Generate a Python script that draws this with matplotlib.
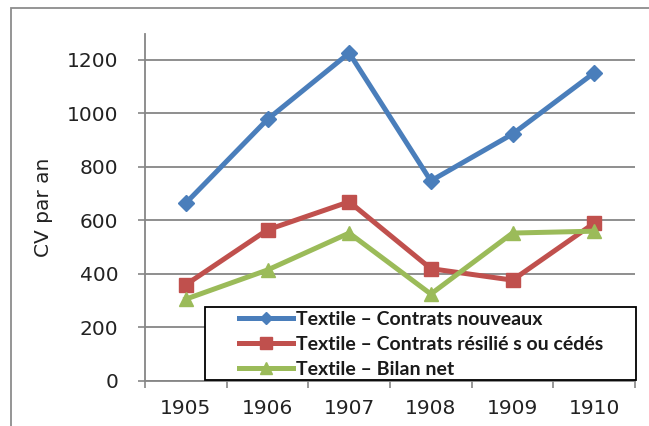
import numpy as np
import matplotlib
matplotlib.use("Agg")
import matplotlib.pyplot as plt
from matplotlib.patches import Rectangle
from matplotlib.lines import Line2D

# données
annees = ['1905', '1906', '1907', '1908', '1909', '1910']
nouveaux = [665, 978, 1226, 748, 923, 1152]
resilies = [360, 565, 670, 420, 377, 590]
bilan = [306, 415, 553, 325, 553, 560]

series_noms = ['Textile \u2013 Contrats nouveaux',
               'Textile \u2013 Contrats r\u00e9sili\u00e9 s ou c\u00e9d\u00e9s',
               'Textile \u2013 Bilan net']

bleu = '#4A7EBB'
rouge = '#C0504D'
vert = '#9BBB59'
gris = '#868686'

W, H = 649, 426
fig = plt.figure(figsize=(W / 100, H / 100), dpi=100)

# cadre gris autour du graphique (coupe a droite et en bas)
fig.patches.append(Rectangle((11 / W, -0.05), 1.0, (H - 8) / H + 0.05,
                             transform=fig.transFigure, fill=False,
                             edgecolor='#8C8C8C', linewidth=1.3))

ax = fig.add_axes([145 / W, 1 - 381 / H, 490 / W, 347 / H])
x = np.arange(len(annees))

ax.plot(x, nouveaux, color=bleu, lw=3.6, marker='D', ms=8.5, zorder=4)
ax.plot(x, resilies, color=rouge, lw=3.6, marker='s', ms=10.5, zorder=3)
ax.plot(x, bilan, color=vert, lw=3.6, marker='^', ms=10.5, zorder=3)

ax.set_xlim(-0.5, 5.5)
ax.set_ylim(0, 1297)
ax.set_yticks(np.arange(0, 1201, 200))
ax.yaxis.grid(True, color=gris, lw=1.3)
ax.set_axisbelow(True)

ax.set_xticks(x)
ax.set_xticklabels(annees)
ax.set_xticks(np.arange(-0.5, 6, 1), minor=True)
ax.tick_params(axis='x', which='major', length=0, pad=13, labelsize=14.5)
ax.tick_params(axis='x', which='minor', length=5, width=1.2, color=gris, direction='out')
ax.tick_params(axis='y', length=5, width=1.2, color=gris, pad=14, labelsize=14.5)

for t in ax.get_xticklabels() + ax.get_yticklabels():
    t.set_color('#222222')

for s in ['top', 'right']:
    ax.spines[s].set_visible(False)
for s in ['left', 'bottom']:
    ax.spines[s].set_color(gris)
    ax.spines[s].set_linewidth(1.3)

ax.set_ylabel('CV par an', fontsize=14.5, color='#222222')
ax.yaxis.set_label_coords(-(145 - 53) / 490, 0.5)

# legende : cadre noir + entrees
bx0 = (205 - 145) / 490
by0 = (381 - 380) / 347
ax.add_patch(Rectangle((bx0, by0), (636 - 205) / 490, (380 - 307) / 347,
                       transform=ax.transAxes, facecolor='white',
                       edgecolor='black', lw=1.3, zorder=5, clip_on=False))
poignees = [Line2D([], [], color=bleu, lw=3.6, marker='D', ms=6),
            Line2D([], [], color=rouge, lw=3.6, marker='s', ms=9),
            Line2D([], [], color=vert, lw=3.6, marker='^', ms=9)]
leg = ax.legend(poignees, series_noms, loc='upper left',
                bbox_to_anchor=((239 - 145) / 490, (381 - 311) / 347),
                frameon=False, prop={'family': 'Lato', 'size': 14, 'weight': 'bold'},
                handlelength=2.8, handletextpad=0.12, labelspacing=0.4,
                borderpad=0, borderaxespad=0)
leg.set_zorder(6)
for t in leg.get_texts():
    t.set_color('#1a1a1a')

fig.savefig('out.png', dpi=100)
